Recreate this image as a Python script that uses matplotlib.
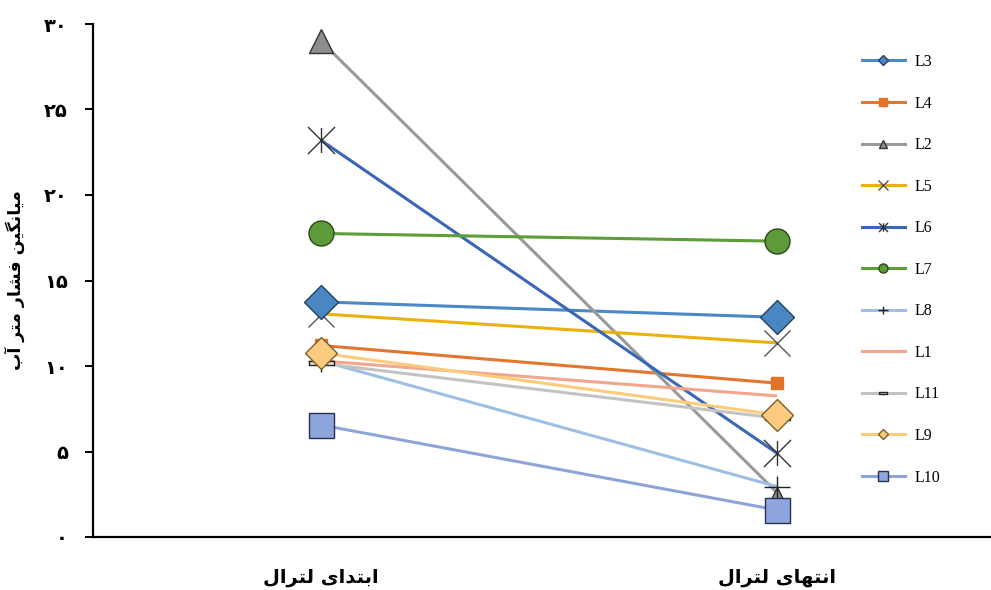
import numpy as np
import matplotlib
matplotlib.use("Agg")
import matplotlib.pyplot as plt
from matplotlib.path import Path
from matplotlib.lines import Line2D

# ---- data -------------------------------------------------------------
categories = ["ابتدای لترال", "انتهای لترال"]
y_label = "میانگین فشار متر آب"
y_ticks = [0, 5, 10, 15, 20, 25, 30]
y_tick_labels = ["۰", "۵", "۱۰", "۱۵", "۲۰", "۲۵", "۳۰"]

series_names = ["L3", "L4", "L2", "L5", "L6", "L7", "L8", "L1", "L11", "L9", "L10"]
L3 = [13.75, 12.85]
L4 = [11.2, 9.0]
L2 = [29.0, 2.6]
L5 = [13.05, 11.35]
L6 = [23.2, 4.9]
L7 = [17.75, 17.3]
L8 = [10.3, 2.95]
L1 = [10.3, 8.25]
L11 = [10.15, 6.95]
L9 = [10.75, 7.15]
L10 = [6.55, 1.58]
series_values = [L3, L4, L2, L5, L6, L7, L8, L1, L11, L9, L10]


# ---- minimal Persian shaping (contextual forms + visual order) --------
_FORMS = {
    "ا": ("\uFE8D", "\uFE8E", None, None),
    "آ": ("\uFE81", "\uFE82", None, None),
    "د": ("\uFEA9", "\uFEAA", None, None),
    "ر": ("\uFEAD", "\uFEAE", None, None),
    "ب": ("\uFE8F", "\uFE90", "\uFE91", "\uFE92"),
    "ت": ("\uFE95", "\uFE96", "\uFE97", "\uFE98"),
    "ش": ("\uFEB5", "\uFEB6", "\uFEB7", "\uFEB8"),
    "ف": ("\uFED1", "\uFED2", "\uFED3", "\uFED4"),
    "ل": ("\uFEDD", "\uFEDE", "\uFEDF", "\uFEE0"),
    "م": ("\uFEE1", "\uFEE2", "\uFEE3", "\uFEE4"),
    "ن": ("\uFEE5", "\uFEE6", "\uFEE7", "\uFEE8"),
    "ه": ("\uFEE9", "\uFEEA", "\uFEEB", "\uFEEC"),
    "ی": ("\uFBFC", "\uFBFD", "\uFBFE", "\uFBFF"),
    "گ": ("\uFB92", "\uFB93", "\uFB94", "\uFB95"),
}


def _dual(ch):
    return ch in _FORMS and _FORMS[ch][2] is not None


def shape_fa(text):
    out = []
    for i, ch in enumerate(text):
        if ch not in _FORMS:
            out.append(ch)
            continue
        prev = text[i - 1] if i > 0 else ""
        nxt = text[i + 1] if i + 1 < len(text) else ""
        join_prev = _dual(prev)
        join_next = _dual(ch) and nxt in _FORMS
        iso, fin, ini, med = _FORMS[ch]
        if join_prev and join_next:
            out.append(med)
        elif join_prev:
            out.append(fin)
        elif join_next:
            out.append(ini)
        else:
            out.append(iso)
    return "".join(out)[::-1]


# ---- marker shapes ----------------------------------------------------
star_path = Path(
    [(-1, -1), (1, 1), (-1, 1), (1, -1), (0, -0.92), (0, 0.92)],
    [Path.MOVETO, Path.LINETO, Path.MOVETO, Path.LINETO, Path.MOVETO, Path.LINETO],
)
plus_path = Path(
    [(-1, 0), (1, 0), (0, -0.85), (0, 0.85)],
    [Path.MOVETO, Path.LINETO, Path.MOVETO, Path.LINETO],
)
dash_path = Path(
    [(-1, -0.13), (1, -0.13), (1, 0.13), (-1, 0.13), (-1, -0.13)],
    [Path.MOVETO, Path.LINETO, Path.LINETO, Path.LINETO, Path.CLOSEPOLY],
)

# per series: line colour, marker, face, edge, marker sizes (pt) at each point,
# marker size in the legend
styles = {
    "L3": dict(c="#4A88C6", m="D", fc="#4A86C2", ec="#24405F", ms=[17.5, 17.5], lms=5.5),
    "L4": dict(c="#E2772D", m="s", fc="#E0722A", ec="#E0722A", ms=[8, 8], lms=6),
    "L2": dict(c="#999999", m="^", fc="#8E8E8E", ec="#333333", ms=[17.5, 9], lms=6),
    "L5": dict(c="#EBB10E", m="x", fc="none", ec="#555555", ms=[18.5, 18.5], lms=6.5),
    "L6": dict(c="#3A66B6", m=star_path, fc="none", ec="#333333", ms=[19.5, 19.5], lms=6.5),
    "L7": dict(c="#5E9C3A", m="o", fc="#5E9A3A", ec="#2C4A1A", ms=[18, 18], lms=6.5),
    "L8": dict(c="#9DBFE4", m=plus_path, fc="none", ec="#222222", ms=[19, 19], lms=7),
    "L1": dict(c="#F2A68E", m=None, fc="none", ec="none", ms=[0, 0], lms=0),
    "L11": dict(c="#C3C3C3", m=dash_path, fc="#E2E2E2", ec="#222222", ms=[18, 18], lms=6),
    "L9": dict(c="#FCCB7C", m="D", fc="#FCCB80", ec="#7A5E2C", ms=[16.5, 16.5], lms=5.5),
    "L10": dict(c="#8EA4D8", m="s", fc="#8FA6DC", ec="#273250", ms=[18, 18], lms=6.5),
}

plt.rcParams["font.family"] = ["DejaVu Sans"]

fig = plt.figure(figsize=(9.91, 5.90), dpi=100)
ax = fig.add_axes([93 / 991, 1 - 537 / 590, 1 - 93 / 991, (537 - 24) / 590])

x = np.arange(len(categories))
for k, (name, vals) in enumerate(zip(series_names, series_values)):
    st = styles[name]
    ax.plot(x, vals, color=st["c"], lw=2.2, solid_capstyle="butt", zorder=2)

for k, (name, vals) in enumerate(zip(series_names, series_values)):
    st = styles[name]
    if st["m"] is None:
        continue
    z = 3 + k * 0.1 + (2 if name == "L3" else 0)
    for xi, yi, ms in zip(x, vals, st["ms"]):
        ax.plot([xi], [yi], linestyle="none", marker=st["m"], ms=ms,
                mfc=st["fc"], mec=st["ec"], mew=1.0, zorder=z)

# axes and ticks
ax.set_xlim(-0.5, 1 + (991 - 777) / 456)
ax.set_ylim(0, 30)
ax.set_yticks(y_ticks, labels=y_tick_labels)
ax.set_xticks(x, labels=[shape_fa(c) for c in categories])
for lab in ax.get_yticklabels():
    lab.set_fontsize(14)
    lab.set_fontweight("bold")
for lab in ax.get_xticklabels():
    lab.set_fontsize(14)
    lab.set_fontweight("bold")
ax.tick_params(axis="y", direction="out", length=6, width=1.4, pad=12)
ax.tick_params(axis="x", length=0, pad=22)

for side in ("top", "right"):
    ax.spines[side].set_visible(False)
ax.spines["left"].set_linewidth(1.6)
ax.spines["bottom"].set_linewidth(1.6)

ax.set_ylabel(shape_fa(y_label), fontsize=12.5, fontweight="bold", labelpad=14)

# legend
handles = []
for name in series_names:
    st = styles[name]
    handles.append(Line2D([], [], color=st["c"], lw=2.2,
                          marker=st["m"] if st["m"] is not None else None,
                          ms=st["lms"], mfc=st["fc"], mec=st["ec"], mew=1.0))
ax.legend(handles, series_names, loc="upper left",
          bbox_to_anchor=(862 / 991, 1 - 54 / 590), bbox_transform=fig.transFigure,
          frameon=False, prop={"family": "Liberation Serif", "size": 11.5},
          handlelength=2.69, handletextpad=0.63, labelspacing=1.60,
          borderpad=0, borderaxespad=0)

fig.savefig("out.png", dpi=100, facecolor="white")
